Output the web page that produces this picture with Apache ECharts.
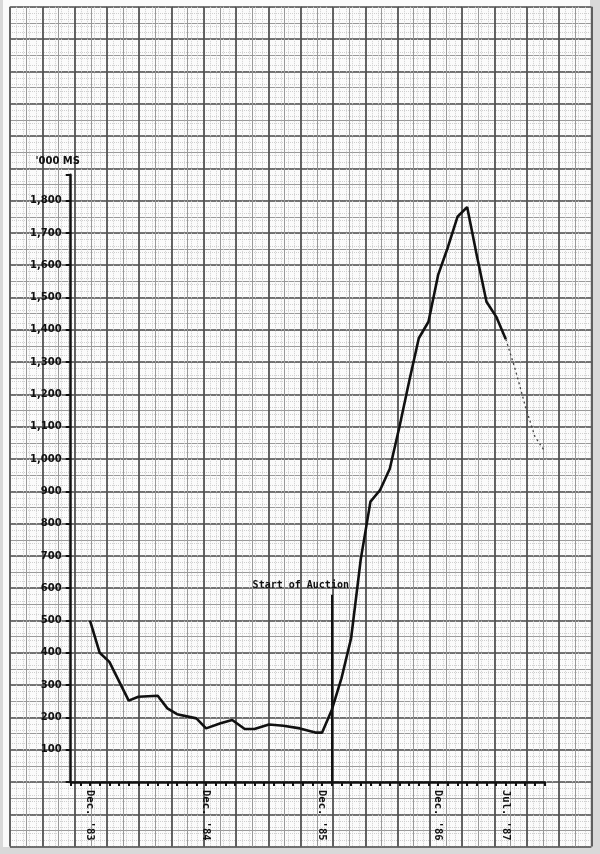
<!DOCTYPE html>
<html>
<head>
<meta charset="utf-8">
<script src="https://cdn.jsdelivr.net/npm/echarts@6/dist/echarts.min.js"></script>
<style>
  html, body { margin: 0; padding: 0; background: #d9d9d9; }
  #chart { width: 600px; height: 854px; }
</style>
</head>
<body>
<div id="chart"></div>
<script>
// months counted from Dec '83 (0) ; vertices of the drawn line
var months = [0, 1, 2, 4, 5, 7, 8, 9, 11, 12, 13.5, 14.7, 16, 17, 18.5, 20, 21.7, 23.3, 24,
  25, 26, 27, 28, 29, 30, 31, 32, 33, 34, 35, 36, 37, 38, 39, 40, 41, 42, 43];
var volume = [500, 400, 372, 252, 264, 267, 228, 210, 197, 166, 182, 192, 164, 164, 178, 174, 166, 153, 153,
  223, 321, 445, 690, 868, 904, 970, 1100, 1240, 1374, 1425, 1570, 1655, 1750, 1780, 1630, 1487, 1441, 1371];
// dotted continuation after Jul '87
var projMonths = [43, 44, 45, 46, 47];
var projVolume = [1371, 1275, 1165, 1070, 1025];

var labelMonths = [0, 12, 24, 36, 43];
var labelTexts = ["Dec. '83", "Dec. '84", "Dec. '85", "Dec. '86", "Jul. '87"];
var auctionMonth = 25;
var auctionTop = 580;

function pairs(xs, ys) {
  return xs.map(function (x, i) { return [x, ys[i]]; });
}

var paperGrid = { left: 10, right: 8.6, top: 6.8, bottom: 7.4 };

var chart = echarts.init(document.getElementById('chart'));
chart.setOption({
  animation: false,
  backgroundColor: '#d9d9d9',
  grid: [
    { left: 70.7, right: 55.5, top: 174.8, bottom: 72 },
    { left: 3, right: 10, top: 0, bottom: 7, show: true, backgroundColor: '#fbfbfb', borderWidth: 0, z: 0 },
    { left: paperGrid.left, right: paperGrid.right, top: paperGrid.top, bottom: paperGrid.bottom, z: 1 },
    { left: paperGrid.left, right: paperGrid.right, top: paperGrid.top, bottom: paperGrid.bottom, z: 1 }
  ],
  xAxis: [
    {
      gridIndex: 0, type: 'value', min: -2, max: 47, interval: 1,
      axisLine: { onZero: false, lineStyle: { color: '#111', width: 2.5 } },
      axisTick: { show: true, length: 4, lineStyle: { color: '#111', width: 2 } },
      splitLine: { show: false },
      axisLabel: {
        rotate: -90, margin: 8,
        fontFamily: 'DejaVu Sans Mono', fontSize: 10.5, fontWeight: 'bold', color: '#111',
        formatter: function (v) {
          var i = labelMonths.indexOf(v);
          return i >= 0 ? labelTexts[i] : '';
        }
      }
    },
    { gridIndex: 1, type: 'value', show: false, min: 0, max: 1 },
    {
      gridIndex: 2, type: 'value', min: 0, max: 18, interval: 0.2,
      axisLine: { show: false }, axisTick: { show: false }, axisLabel: { show: false },
      splitLine: { show: true, lineStyle: { color: '#cfcfcf', width: 1, type: 'dotted' } }
    },
    {
      gridIndex: 3, type: 'value', min: 0, max: 18, interval: 1,
      axisLine: { show: false }, axisTick: { show: false }, axisLabel: { show: false },
      splitLine: { show: true, lineStyle: { color: '#4a4a4a', width: 1.7 } },
      minorTick: { show: false, splitNumber: 2 },
      minorSplitLine: { show: true, lineStyle: { color: '#999', width: 1 } }
    }
  ],
  yAxis: [
    {
      gridIndex: 0, type: 'value', min: 0, max: 1880, interval: 100,
      name: "'000 MS", nameLocation: 'end', nameGap: 8,
      nameTextStyle: { fontFamily: 'DejaVu Sans', fontSize: 10, fontWeight: 'bold', color: '#111', align: 'center', padding: [0, 26, 0, 0] },
      axisLine: { onZero: false, lineStyle: { color: '#111', width: 2.5 } },
      axisTick: { show: true, length: 5, lineStyle: { color: '#111', width: 2 } },
      splitLine: { show: false },
      axisLabel: {
        margin: 9, fontFamily: 'DejaVu Sans', fontSize: 10, fontWeight: 'bold', color: '#111',
        formatter: function (v) {
          if (v === 0 || v % 100 !== 0) return '';
          return v.toLocaleString('en-US');
        }
      }
    },
    { gridIndex: 1, type: 'value', show: false, min: 0, max: 1 },
    {
      gridIndex: 2, type: 'value', min: 0, max: 26, interval: 0.2,
      axisLine: { show: false }, axisTick: { show: false }, axisLabel: { show: false },
      splitLine: { show: true, lineStyle: { color: '#cfcfcf', width: 1, type: 'dotted' } }
    },
    {
      gridIndex: 3, type: 'value', min: 0, max: 26, interval: 1,
      axisLine: { show: false }, axisTick: { show: false }, axisLabel: { show: false },
      splitLine: { show: true, lineStyle: { color: '#4a4a4a', width: 1.7 } },
      minorTick: { show: false, splitNumber: 2 },
      minorSplitLine: { show: true, lineStyle: { color: '#999', width: 1 } }
    }
  ],
  series: [
    {
      type: 'line', xAxisIndex: 0, yAxisIndex: 0, z: 5,
      data: pairs(months, volume),
      symbol: 'none',
      lineStyle: { color: '#111', width: 2.6 },
      markLine: {
        silent: true, symbol: 'none',
        lineStyle: { color: '#111', width: 2, type: 'solid' },
        label: {
          show: true, position: 'end', distance: 4, offset: [-31, 0],
          formatter: 'Start of Auction',
          fontFamily: 'DejaVu Sans Mono', fontSize: 10, fontWeight: 'bold', color: '#111'
        },
        data: [[{ coord: [auctionMonth, 0] }, { coord: [auctionMonth, auctionTop] }]]
      }
    },
    {
      type: 'line', xAxisIndex: 0, yAxisIndex: 0, z: 5,
      data: pairs(projMonths, projVolume),
      symbol: 'none',
      lineStyle: { color: '#444', width: 1.3, type: [2, 3] }
    }
  ]
});
</script>
</body>
</html>
